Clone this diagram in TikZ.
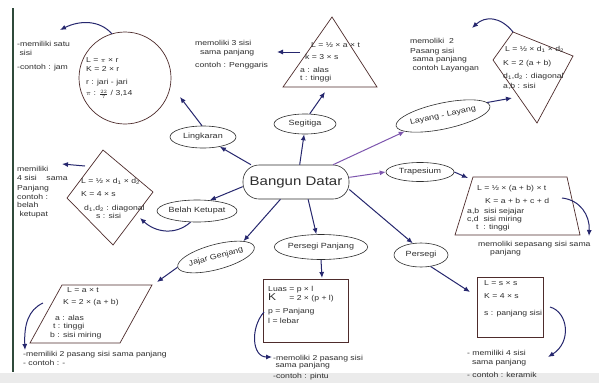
\documentclass[tikz,border=0pt]{standalone}
\usepackage{fontspec}
\setmainfont{Liberation Sans}
\newfontfamily\hand[FakeStretch=1.2]{Liberation Sans}
\usetikzlibrary{shapes.geometric,arrows.meta}
\definecolor{navy}{HTML}{26276E}
\definecolor{purp}{HTML}{7D55AE}
\definecolor{shp}{HTML}{4E2C2C}
\definecolor{ink}{HTML}{2E2E2E}
\definecolor{edge}{HTML}{2F4A3A}
\newcommand\hf{½}
\begin{document}
\begin{tikzpicture}[x=1pt,y=-1pt,
  bub/.style={draw=ink, ellipse, line width=0.6pt, inner sep=0pt, font=\hand\fontsize{7.5}{8}\selectfont, text=ink},
  arr/.style={draw=navy, line width=1pt, -{Latex[length=6pt,width=5pt]}},
  parr/.style={arr, draw=purp},
  shp/.style={draw=shp, line width=0.7pt},
  txt/.style={font=\hand\fontsize{7.2}{9}\selectfont, text=ink, align=left, inner sep=0pt, anchor=north west},
]
\useasboundingbox (0,0) rectangle (599,383);
\fill[white] (0,0) rectangle (599,383);
\fill[black!8] (0,373) rectangle (599,383);
\draw[edge, line width=2.5pt] (13,8) -- (13,372);

% centre and branches
\node[draw=ink, line width=0.6pt, rounded corners=16pt, minimum width=106pt, minimum height=34pt, font=\hand\fontsize{12.5}{13}\selectfont, text=ink] (c) at (296,182) {Bangun Datar};
\node[bub, minimum width=66pt, minimum height=22pt] (lingk) at (203,137) {Lingkaran};
\node[bub, minimum width=62pt, minimum height=20pt] (segi) at (305,124) {Segitiga};
\node[bub, minimum width=72pt, minimum height=22pt] (belah) at (197,211) {Belah Ketupat};
\node[bub, minimum width=78pt, minimum height=25pt, rotate=15] (jajar) at (216,257) {Jajar Genjang};
\node[bub, minimum width=86pt, minimum height=25pt] (ppj) at (321,247) {Persegi Panjang};
\node[bub, minimum width=54pt, minimum height=24pt] (pers) at (421,255) {Persegi};
\node[bub, minimum width=68pt, minimum height=19pt] (trap) at (420,172) {Trapesium};
\node[bub, minimum width=96pt, minimum height=26pt, rotate=12] (layang) at (443,116) {Layang - Layang};

\draw[arr] (c.159) -- (lingk.-30);
\draw[arr] (c.78) -- (segi.-95);
\draw[arr] (c.185) -- (belah.40);
\draw[arr] (c.228) -- (jajar.15);
\draw[arr] (c.-55) -- (ppj.110);
\draw[arr] (c.-8) -- (pers.125);
\draw[parr] (c.5) -- (trap.180);
\draw[parr] (c.25) -- (layang.190);

% Lingkaran
\node[shp, circle, minimum size=92pt] (circ) at (125,78) {};
\node[txt] (circtxt) at (86,57.7) {L = \(\pi\) × r\\K = 2 × r\\[4pt]r : jari - jari\\[2pt]\(\pi\) : \(\smash{\frac{22}{7}}\) / 3,14};
\node[txt] (circnote) at (17,40.7) {-memiliki satu\\\ sisi\\[5pt]-contoh : jam};
\coordinate (circin) at (180,97);
\coordinate (circout) at (112,34);
\coordinate (circnoteend) at (60,30);
\draw[arr] (lingk.95) -- (circin);
\draw[arr] (circout) .. controls (100,20) and (80,20) .. (circnoteend);

% Segitiga
\coordinate (t1) at (332,17);
\coordinate (t2) at (377,87);
\coordinate (t3) at (283,87);
\draw[shp] (t1) -- (t2) -- (t3) -- cycle;
\node[txt] (tritxt) at (300,42.7) {\hspace*{11pt}L = \hf\ × a × t\\[3pt]\hspace*{5pt}k = 3 × s\\[4pt]a : alas\\[-1pt]t : tinggi};
\node[txt] (trinote) at (195,39.7) {memoliki 3 sisi\\\ \ sama panjang\\[4pt]contoh : Penggaris};
\coordinate (triin) at (325,92);
\coordinate (triout) at (300,52);
\coordinate (trinoteend) at (277,52);
\draw[arr] (segi.65) -- (triin);
\draw[arr] (triout) -- (trinoteend);

% Layang-layang
\coordinate (k1) at (513,32);
\coordinate (k2) at (573,56);
\coordinate (k3) at (537,123);
\coordinate (k4) at (493,60);
\draw[shp] (k1) -- (k2) -- (k3) -- (k4) -- cycle;
\node[txt] (kitetxt) at (503,45.7) {\hspace*{2pt}L = \hf\ × d\textsubscript{1} × d\textsubscript{2}\\[5pt]K = 2 (a + b)\\[4pt]d\textsubscript{1},d\textsubscript{2} : diagonal\\[1pt]a,b : sisi};
\node[txt] (kitenote) at (410,37.7) {memoliki \ 2\\[1pt]Pasang sisi\\[-1pt]\ sama panjang\\[0pt]\ contoh Layangan};
\coordinate (kitein) at (512,98);
\coordinate (kitenoteend) at (472,28);
\draw[arr] (layang.5) -- (kitein);
\draw[arr] (k1) .. controls (500,16) and (485,16) .. (kitenoteend);

% Trapesium
\coordinate (z1) at (473,177);
\coordinate (z2) at (567,177);
\coordinate (z3) at (580,235);
\coordinate (z4) at (455,235);
\draw[shp] (z1) -- (z2) -- (z3) -- (z4) -- cycle;
\node[txt] (traptxt) at (467,184.7) {\hspace*{10pt}L = \hf\ × (a + b) × t\\[4pt]\hspace*{18pt}K = a + b + c + d\\[1pt]a,b \ sisi sejajar\\[-1pt]c,d \ sisi miring\\[-1pt]\hspace*{9pt}t \ : tinggi};
\node[txt] (trapnote) at (478,240.7) {memoliki sepasang sisi sama\\[-1pt]\hspace*{12pt}panjang};
\coordinate (trapin) at (468,178);
\coordinate (trapout) at (562,198);
\coordinate (trapnoteend) at (589,236);
\draw[arr] (trap.0) -- (trapin);
\draw[arr] (trapout) .. controls (580,200) and (590,215) .. (trapnoteend);

% Persegi
\node[shp, draw, minimum width=66pt, minimum height=60pt, inner sep=0pt] (sq) at (510,307) {};
\node[txt] (sqtxt) at (484,280.7) {L = s × s\\[4pt]K = 4 × s\\[8pt]s : panjang sisi};
\node[txt] (sqnote) at (467,349.7) {- memiliki 4 sisi\\[0pt]\ \ sama panjang\\[4pt]- contoh : keramik};
\coordinate (sqin) at (470,292);
\coordinate (sqout) at (550,307);
\coordinate (sqnoteend) at (548,357);
\draw[arr] (pers.-50) -- (sqin);
\draw[arr] (sqout) .. controls (568,312) and (572,342) .. (sqnoteend);

% Persegi Panjang
\node[shp, draw, minimum width=85pt, minimum height=63pt, inner sep=0pt] (rect) at (305.5,310.5) {};
\node[txt] (recttxt) at (268,285) {\begin{tabular}[t]{@{}l@{\ }l@{}}Luas & = p × l\\[-1pt]{\fontsize{10}{10}\selectfont K} & = 2 × (p + l)\end{tabular}\\[4pt]p = Panjang\\[1pt]l = lebar};
\node[txt] (rectnote) at (273,354.7) {-memoliki 2 pasang sisi\\[-2pt]\ sama panjang\\[2pt]-contoh : pintu};
\coordinate (rectin) at (322,278);
\coordinate (rectout) at (264,312);
\coordinate (rectnoteend) at (272,357);
\draw[arr] (ppj.-90) -- (rectin);
\draw[arr] (rectout) .. controls (250,328) and (252,357) .. (rectnoteend);

% Jajar Genjang
\coordinate (p1) at (62,285);
\coordinate (p2) at (152,285);
\coordinate (p3) at (120,343);
\coordinate (p4) at (30,343);
\draw[shp] (p1) -- (p2) -- (p3) -- (p4) -- cycle;
\node[txt] (partxt) at (50,287.7) {\hspace*{17pt}L = a × t\\[3pt]\hspace*{13pt}K = 2 × (a + b)\\[7pt]\hspace*{5pt}a : alas\\[-1pt]\hspace*{3pt}t : tinggi\\[0pt]b : sisi miring};
\node[txt] (parnote) at (23,350.7) {-memiliki 2 pasang sisi sama panjang\\[0pt]- contoh : -};
\coordinate (parin) at (157,282);
\coordinate (parout) at (43,303);
\coordinate (parnoteend) at (25,350);
\draw[arr] (jajar.180) -- (parin);
\draw[arr] (parout) .. controls (28,310) and (24,325) .. (parnoteend);

% Belah Ketupat
\coordinate (d1) at (103,150);
\coordinate (d2) at (153,192);
\coordinate (d3) at (113,245);
\coordinate (d4) at (67,198);
\draw[shp] (d1) -- (d2) -- (d3) -- (d4) -- cycle;
\node[txt] (diatxt) at (81,177.7) {L = \hf\ × d\textsubscript{1} × d\textsubscript{2}\\[4pt]K = 4 × s\\[5pt]\hspace*{3pt}d\textsubscript{1},d\textsubscript{2} : diagonal\\[-1pt]\hspace*{15pt}s : sisi};
\node[txt] (dianote) at (17,165.7) {memiliki\\[0pt]4 sisi \ \ \ sama\\[1pt]Panjang\\[0pt]contoh :\\[-1pt]belah\\[0pt]\ ketupat};
\coordinate (diain) at (140,218);
\coordinate (diaout) at (85,166);
\coordinate (dianoteend) at (62,164);
\draw[arr] (belah.240) .. controls (175,236) and (155,232) .. (diain);
\draw[arr] (diaout) -- (dianoteend);
\end{tikzpicture}
\end{document}
